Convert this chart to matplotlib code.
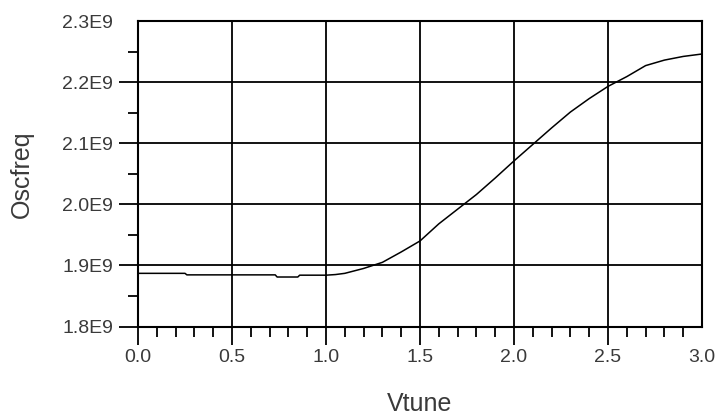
import numpy as np
import matplotlib
matplotlib.use('Agg')
import matplotlib.pyplot as plt
from matplotlib.ticker import MultipleLocator

# tuning voltage vs oscillation frequency (values in units of 1E9 Hz)
vtune = [0.0, 0.25, 0.26, 0.73, 0.74, 0.85, 0.86, 1.0, 1.05, 1.1, 1.2, 1.3,
         1.4, 1.5, 1.6, 1.7, 1.8, 1.9, 2.0, 2.1, 2.2, 2.3, 2.4, 2.5, 2.6,
         2.7, 2.8, 2.9, 3.0]
oscfreq = [1.887, 1.887, 1.8845, 1.8845, 1.881, 1.881, 1.884, 1.884, 1.885,
           1.887, 1.895, 1.905, 1.922, 1.940, 1.968, 1.992, 2.016, 2.043,
           2.071, 2.098, 2.125, 2.151, 2.173, 2.193, 2.209, 2.227, 2.236,
           2.242, 2.246]

xticks = [0.0, 0.5, 1.0, 1.5, 2.0, 2.5, 3.0]
xlabels = ['0.0', '0.5', '1.0', '1.5', '2.0', '2.5', '3.0']
yticks = [1.8, 1.9, 2.0, 2.1, 2.2, 2.3]
ylabels = ['1.8E9', '1.9E9', '2.0E9', '2.1E9', '2.2E9', '2.3E9']

txt = '#3a3a3a'
plt.rcParams['font.family'] = ['Liberation Sans', 'DejaVu Sans']

fig = plt.figure(figsize=(7.2, 4.2), dpi=100)
ax = fig.add_axes([138/720, (420-326.5)/420, 564/720, 305.5/420])

ax.plot(np.array(vtune), np.array(oscfreq), color='black', lw=1.1)

ax.set_xlim(0, 3.0)
ax.set_ylim(1.8, 2.3)
ax.set_xticks(xticks)
ax.set_xticklabels(xlabels)
ax.set_yticks(yticks)
ax.set_yticklabels(ylabels)
ax.xaxis.set_minor_locator(MultipleLocator(0.1))
ax.yaxis.set_minor_locator(MultipleLocator(0.05))

ax.grid(True, which='major', color='black', lw=1.3)
for s in ax.spines.values():
    s.set_linewidth(1.5)

ax.tick_params(axis='x', which='major', direction='out', length=13, width=1.3,
               pad=3, labelsize=14, labelcolor=txt)
ax.tick_params(axis='x', which='minor', direction='out', length=7, width=1.3)
ax.tick_params(axis='y', which='major', direction='out', length=14, width=1.3,
               pad=4, labelsize=14, labelcolor=txt)
ax.tick_params(axis='y', which='minor', direction='out', length=7, width=1.3)

# no outer tick mark at the far ends (3.0 and 2.3E9)
ax.xaxis.get_major_ticks()[-1].tick1line.set_visible(False)
ax.yaxis.get_major_ticks()[-1].tick1line.set_visible(False)

ax.set_xlabel('Vtune', fontsize=18, color=txt, labelpad=19)
ax.set_ylabel('Oscfreq', fontsize=18, color=txt, labelpad=20)

fig.savefig('out.png', dpi=100)
